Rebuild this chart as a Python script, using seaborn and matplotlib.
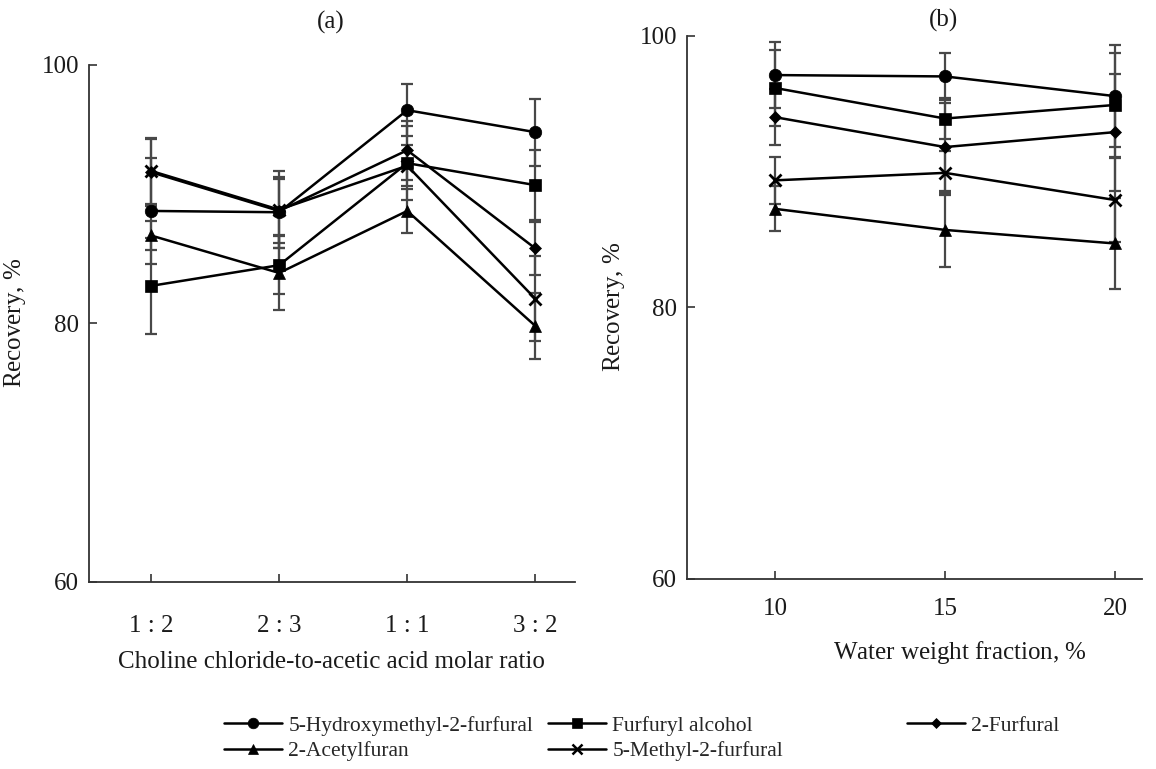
import numpy as np
import pandas as pd
import matplotlib
matplotlib.use("Agg")
import matplotlib.pyplot as plt
import seaborn as sns
from matplotlib.lines import Line2D

# ---- data ----
compounds = ["5-Hydroxymethyl-2-furfural", "Furfuryl alcohol", "2-Furfural",
             "2-Acetylfuran", "5-Methyl-2-furfural"]

ratio_labels = ["1 : 2", "2 : 3", "1 : 1", "3 : 2"]
water_fraction = [10, 15, 20]

# panel (a): recovery vs ChCl : AcOH ratio
a_hmf = [88.7, 88.6, 96.5, 94.8]
a_fa = [82.9, 84.5, 92.4, 90.7]
a_ff = [91.7, 88.7, 93.4, 85.8]
a_af = [86.8, 83.9, 88.7, 79.8]
a_mf = [91.8, 88.8, 92.2, 81.9]

a_hmf_err = [4.1, 2.75, 2.0, 2.6]
a_fa_err = [3.7, 2.25, 2.85, 2.7]
a_ff_err = [2.6, 2.45, 2.3, 2.05]
a_af_err = [1.15, 2.9, 1.7, 2.55]
a_mf_err = [2.55, 3.0, 1.6, 3.3]

# panel (b): recovery vs water content
b_hmf = [97.1, 97.0, 95.55]
b_fa = [96.15, 93.9, 94.9]
b_ff = [94.0, 91.8, 92.9]
b_af = [87.25, 85.7, 84.7]
b_mf = [89.35, 89.9, 87.9]

b_hmf_err = [2.45, 1.7, 3.75]
b_fa_err = [2.8, 1.5, 3.8]
b_ff_err = [2.05, 3.25, 4.3]
b_af_err = [1.65, 2.7, 3.35]
b_mf_err = [1.75, 1.6, 3.1]

markers = {"5-Hydroxymethyl-2-furfural": "o", "Furfuryl alcohol": "s",
           "2-Furfural": "D", "2-Acetylfuran": "^", "5-Methyl-2-furfural": "x"}
msizes = {"5-Hydroxymethyl-2-furfural": 9, "Furfuryl alcohol": 8.5,
          "2-Furfural": 6.5, "2-Acetylfuran": 8.5, "5-Methyl-2-furfural": 9}

sns.set_style("ticks")
plt.rcParams["font.family"] = ["Liberation Serif", "DejaVu Serif"]
plt.rcParams["mathtext.fontset"] = "custom"
plt.rcParams["mathtext.rm"] = "Liberation Serif"
plt.rcParams["mathtext.it"] = "Liberation Serif:italic"

fig = plt.figure(figsize=(11.56, 7.69), dpi=100)
ax_a = fig.add_axes([0.0767, 0.2436, 0.4207, 0.6719])
ax_b = fig.add_axes([0.5940, 0.2471, 0.3941, 0.7065])


def draw_panel(ax, x, values, errors):
    for name in compounds:
        ax.errorbar(x, values[name], yerr=errors[name], fmt="none",
                    ecolor="#484848", elinewidth=1.6, capsize=4.5,
                    capthick=1.6, zorder=1)
    for name in compounds:
        d = pd.DataFrame({"x": x, "y": values[name]})
        mk = markers[name]
        sns.lineplot(data=d, x="x", y="y", ax=ax, color="black", linewidth=1.8,
                     marker=mk, markersize=msizes[name],
                     markeredgecolor="black",
                     markeredgewidth=2.0 if mk == "x" else 0.5,
                     errorbar=None, legend=False, zorder=3)


xa = np.arange(len(ratio_labels))
draw_panel(ax_a, xa,
           dict(zip(compounds, [a_hmf, a_fa, a_ff, a_af, a_mf])),
           dict(zip(compounds, [a_hmf_err, a_fa_err, a_ff_err, a_af_err, a_mf_err])))
draw_panel(ax_b, np.array(water_fraction),
           dict(zip(compounds, [b_hmf, b_fa, b_ff, b_af, b_mf])),
           dict(zip(compounds, [b_hmf_err, b_fa_err, b_ff_err, b_af_err, b_mf_err])))

for ax in (ax_a, ax_b):
    sns.despine(ax=ax)
    ax.set_ylim(60, 100)
    ax.set_yticks([60, 80, 100])
    for s in ("left", "bottom"):
        ax.spines[s].set_color("#333333")
        ax.spines[s].set_linewidth(1.3)
    ax.tick_params(direction="in", length=6, width=1.2, colors="#333333",
                   labelcolor="#1a1a1a", labelsize=18)
    ax.tick_params(axis="y", pad=7)
    ax.set_ylabel("Recovery, $\\mathit{\\%}$", fontsize=18, color="#1a1a1a")

ax_a.set_xlim(-0.487, 3.31)
ax_a.set_xticks(xa)
ax_a.set_xticklabels(ratio_labels)
ax_a.tick_params(axis="x", pad=24)
ax_a.set_xlabel("Choline chloride-to-acetic acid molar ratio", fontsize=18,
                color="#1a1a1a")
ax_a.yaxis.set_label_coords(-0.125, 0.5)
ax_a.xaxis.set_label_coords(0.5, -0.135)

ax_b.set_xlim(7.4, 20.8)
ax_b.set_xticks(water_fraction)
ax_b.tick_params(axis="x", pad=14)
ax_b.set_xlabel("Water weight fraction, $\\mathit{\\%}$", fontsize=18,
                color="#1a1a1a")
ax_b.yaxis.set_label_coords(-0.13, 0.5)
ax_b.xaxis.set_label_coords(0.6, -0.11)

fig.text(331 / 1156, 1 - 22 / 769, "(a)", ha="center", va="center",
         fontsize=18, color="#1a1a1a")
fig.text(943 / 1156, 1 - 20 / 769, "(b)", ha="center", va="center",
         fontsize=18, color="#1a1a1a")

# legend laid out in three columns like the original
handles = {}
for name in compounds:
    mk = markers[name]
    handles[name] = Line2D([], [], color="black", linewidth=1.8, marker=mk,
                           markersize=msizes[name] * 0.85,
                           markeredgewidth=1.8 if mk == "x" else 0.5)

columns = [(["5-Hydroxymethyl-2-furfural", "2-Acetylfuran"], 213),
           (["Furfuryl alcohol", "5-Methyl-2-furfural"], 537),
           (["2-Furfural"], 896)]
for names, xpix in columns:
    fig.legend(handles=[handles[n] for n in names], labels=names,
               loc="upper left", bbox_to_anchor=(xpix / 1156, 1 - 705 / 769),
               frameon=False, fontsize=15.5, handlelength=2.7, borderpad=0,
               handletextpad=0.3, labelspacing=0.25)

fig.savefig("out.png", dpi=100)
